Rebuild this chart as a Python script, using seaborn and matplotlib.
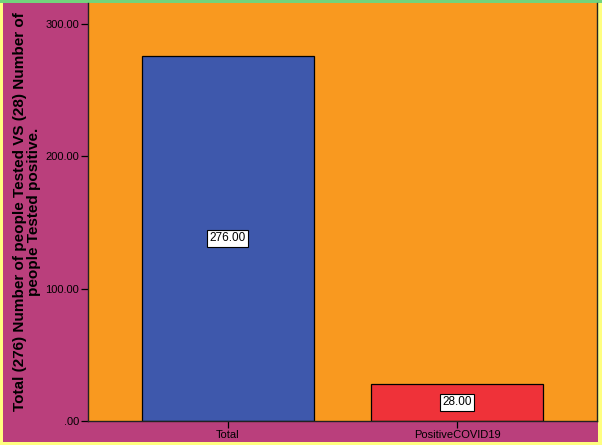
import matplotlib
matplotlib.use("Agg")
import matplotlib.pyplot as plt
import seaborn as sns
import pandas as pd
from matplotlib.patches import Rectangle

# Datos del gráfico
categorias = ["Total", "PositiveCOVID19"]
valores = [276, 28]
colores = ["#3e58ac", "#ef3239"]

df = pd.DataFrame({"categoria": categorias, "valor": valores})

sns.set_style("white")
plt.rcParams["font.family"] = ["Liberation Sans", "DejaVu Sans"]

fig = plt.figure(figsize=(6.02, 4.45), dpi=100)
fig.patch.set_facecolor("#ffff80")
# franja verde arriba y fondo magenta
fig.patches.append(Rectangle((0, 1 - 3 / 445), 1, 3 / 445, transform=fig.transFigure,
                             facecolor="#72d47c", edgecolor="none", zorder=-5))
fig.patches.append(Rectangle((3 / 602, 3 / 445), 595 / 602, 439 / 445, transform=fig.transFigure,
                             facecolor="#ba3f7c", edgecolor="none", zorder=-5))

ax = fig.add_axes([88 / 602, 24 / 445, 509 / 602, 418 / 445])
ax.set_facecolor("#f9991f")

sns.barplot(data=df, x="categoria", y="valor", hue="categoria", palette=colores,
            saturation=1, width=0.75, edgecolor="black", linewidth=0.9, legend=False, ax=ax)

ax.set_xlim(-0.61, 1.61)
ax.set_ylim(0, 316)
ax.set_yticks([0, 100, 200, 300])
ax.set_yticklabels([".00", "100.00", "200.00", "300.00"])
ax.tick_params(axis="both", which="both", direction="out", length=5, width=0.9,
               labelsize=8, colors="black", bottom=True, left=True, pad=1.5)
ax.set_xlabel("")
ax.set_ylabel("Total (276) Number of people Tested VS (28) Number of\npeople Tested positive.",
              fontsize=11, fontweight="bold", color="black", labelpad=3, linespacing=1.0)

for s in ["left", "bottom", "right"]:
    ax.spines[s].set_color("#222222")
    ax.spines[s].set_linewidth(1.0)
ax.spines["top"].set_visible(False)

# etiquetas de valor en la mitad de cada barra
for i, v in enumerate(valores):
    ax.text(i, v / 2, f"{v:.2f}", ha="center", va="center", fontsize=8.5, color="black",
            bbox=dict(boxstyle="square,pad=0.2", facecolor="white", edgecolor="black", linewidth=0.8))

fig.savefig("out.png", dpi=100)
